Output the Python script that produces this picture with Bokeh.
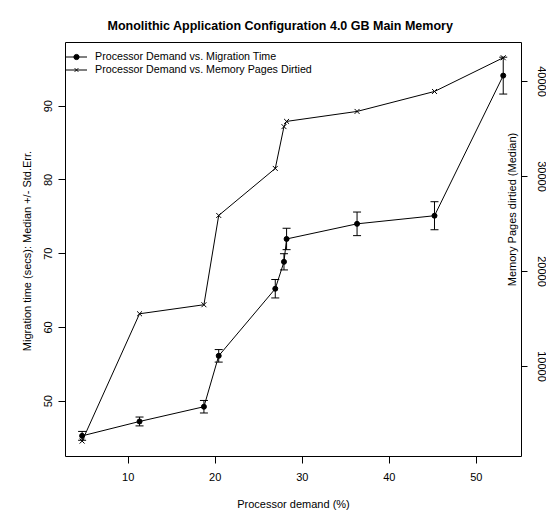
import math

from bokeh.embed import file_html
from bokeh.models import (ColumnDataSource, FixedTicker, Label, LinearAxis,
                          Range1d, TeeHead, Whisker)
from bokeh.plotting import figure
from bokeh.resources import INLINE

# Processor demand (%) for each run configuration
demand = [4.7, 11.3, 18.7, 20.4, 26.9, 27.9, 28.2, 36.3, 45.2, 53.1]
# Median migration time (secs) and its standard error
mig_time = [45.3, 47.25, 49.25, 56.15, 65.25, 68.9, 72.0, 74.05, 75.15, 94.15]
mig_err = [0.6, 0.6, 0.85, 0.85, 1.25, 1.1, 1.45, 1.6, 1.9, 2.5]
# Median number of memory pages dirtied
pages = [2150, 15550, 16500, 25900, 30850, 35250, 35800, 36850, 38950, 42500]

x_ticks = [10, 20, 30, 40, 50]
left_ticks = [50, 60, 70, 80, 90]
right_ticks = [10000, 20000, 30000, 40000]

FONT = "Liberation Sans"

p = figure(width=546, height=512, output_backend="svg", toolbar_location=None,
           x_range=Range1d(2.79, 55.2), y_range=Range1d(42.5, 98.64),
           frame_width=456, frame_height=414,
           min_border_left=65, min_border_right=25,
           min_border_top=42, min_border_bottom=56)
p.extra_y_ranges = {"pages": Range1d(526, 44105)}
p.grid.visible = False
p.outline_line_color = "black"
p.outline_line_alpha = 1.0
p.outline_line_width = 1
p.background_fill_color = "white"
p.border_fill_color = "white"

xax = p.below[0]
yax = p.left[0]

p.title.text = "Monolithic Application Configuration 4.0 GB Main Memory"
p.title.align = "left"
p.title.offset = 42
p.title.vertical_align = "top"
p.title.standoff = 16
p.title.text_font = FONT
p.title.text_font_size = "12.5px"
p.title.text_font_style = "bold"
p.title.text_color = "black"

right_axis = LinearAxis(y_range_name="pages")
p.add_layout(right_axis, "right")

xax.ticker = FixedTicker(ticks=x_ticks)
yax.ticker = FixedTicker(ticks=left_ticks)
right_axis.ticker = FixedTicker(ticks=right_ticks)

for ax in [xax, yax, right_axis]:
    ax.axis_line_color = None
    ax.major_tick_in = 0
    ax.major_tick_out = 7
    ax.major_tick_line_color = "black"
    ax.minor_tick_line_color = None
    ax.major_label_text_font = FONT
    ax.major_label_text_font_size = "11px"
    ax.major_label_text_color = "black"
    ax.major_label_standoff = 6
    ax.axis_label_text_font = FONT
    ax.axis_label_text_font_size = "11px"
    ax.axis_label_text_font_style = "normal"
    ax.axis_label_text_color = "black"

xax.major_label_standoff = 9
xax.axis_label = "Processor demand (%)"
xax.axis_label_standoff = 14

yax.major_label_orientation = "vertical"
yax.axis_label = "Migration time (secs):  Median +/- Std.Err."
yax.axis_label_standoff = 9

right_axis.major_label_orientation = "vertical"
right_axis.major_tick_out = 6
right_axis.major_label_standoff = 10

lower = [m - e for m, e in zip(mig_time, mig_err)]
upper = [m + e for m, e in zip(mig_time, mig_err)]
src = ColumnDataSource(dict(x=demand, y=mig_time, lower=lower, upper=upper, pages=pages))

label_a = "Processor Demand vs. Migration Time"
label_b = "Processor Demand vs. Memory Pages Dirtied"

p.line("x", "y", source=src, line_color="black", line_width=1, legend_label=label_a)
p.add_layout(Whisker(source=src, base="x", lower="lower", upper="upper",
                     dimension="height", line_color="black", line_width=1,
                     upper_head=TeeHead(size=8, line_color="black", line_width=1),
                     lower_head=TeeHead(size=8, line_color="black", line_width=1)))
p.scatter("x", "y", source=src, marker="circle", size=5, fill_color="black",
          line_color="black", legend_label=label_a)

p.line("x", "pages", source=src, y_range_name="pages", line_color="black",
       line_width=1, legend_label=label_b)
p.scatter("x", "pages", source=src, y_range_name="pages", marker="x", size=7,
          line_color="black", line_width=1, legend_label=label_b)

leg = p.legend[0]
leg.location = (0, 380.5)
leg.border_line_color = None
leg.background_fill_alpha = 0
leg.padding = 2
leg.margin = 0
leg.spacing = 0
leg.glyph_width = 22
leg.glyph_height = 13
leg.label_height = 13
leg.label_standoff = 8
leg.label_text_font = FONT
leg.label_text_font_size = "10.7px"
leg.label_text_color = "black"

# Right-hand axis title sits just inside the frame
p.add_layout(Label(text="Memory Pages dirtied (Median)", x=446.7, y=247,
                   x_units="screen", y_units="screen", angle=math.pi / 2,
                   text_align="center", text_baseline="middle", text_font=FONT,
                   text_font_size="11px", text_color="black"))

open("out.html", "w").write(file_html(p, INLINE))
